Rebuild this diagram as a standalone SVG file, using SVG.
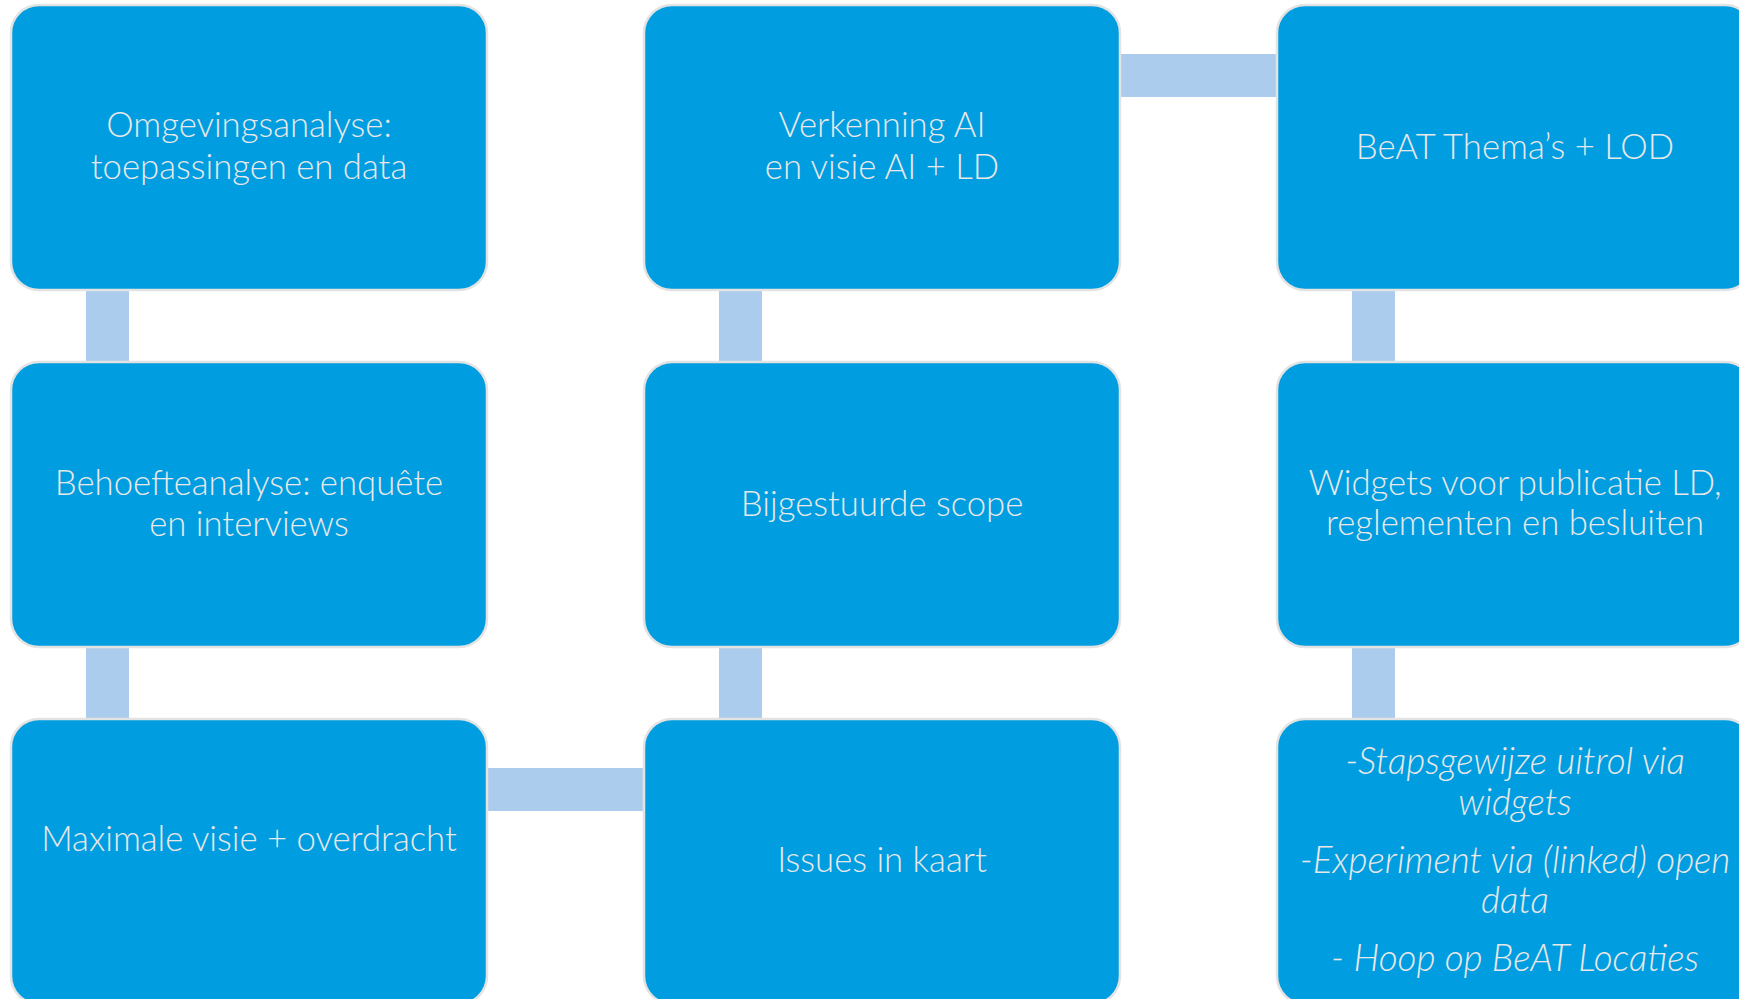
<svg xmlns="http://www.w3.org/2000/svg" width="1739" height="999" viewBox="0 0 1739 999">
<style>
.box{fill:#009EE0;stroke:#E3E3E3;stroke-width:2.5}
.con{fill:#ABCCED}
.t{font-family:Lato,"Liberation Sans",sans-serif;font-weight:300;font-size:34.7px;fill:#E9E8E8;text-anchor:middle}
.i{font-style:italic;font-size:36.8px}
</style>
<rect width="1739" height="999" fill="#FFFFFF"/>
<g id="connectors">
<rect class="con" x="86" y="289" width="43" height="74"/>
<rect class="con" x="86" y="646" width="43" height="74"/>
<rect class="con" x="719" y="289" width="43" height="74"/>
<rect class="con" x="719" y="646" width="43" height="74"/>
<rect class="con" x="1352" y="289" width="43" height="74"/>
<rect class="con" x="1352" y="646" width="43" height="74"/>
<rect class="con" x="1119" y="54" width="159" height="43"/>
<rect class="con" x="486" y="768" width="159" height="43"/>
</g>
<g id="n1"><rect class="box" x="11" y="5" width="476" height="285" rx="28"/>
<text class="t" x="249" y="137">Omgevingsanalyse:</text><text class="t" x="249" y="179">toepassingen en data</text></g>
<g id="n2"><rect class="box" x="11" y="362" width="476" height="285" rx="28"/>
<text class="t" x="249" y="495">Behoefteanalyse: enquête</text><text class="t" x="249" y="536">en interviews</text></g>
<g id="n3"><rect class="box" x="11" y="719" width="476" height="285" rx="28"/>
<text class="t" x="249" y="851">Maximale visie + overdracht</text></g>
<g id="n4"><rect class="box" x="644" y="5" width="476" height="285" rx="28"/>
<text class="t" x="882" y="137">Verkenning AI</text><text class="t" x="882" y="179">en visie AI + LD</text></g>
<g id="n5"><rect class="box" x="644" y="362" width="476" height="285" rx="28"/>
<text class="t" x="882" y="516">Bijgestuurde scope</text></g>
<g id="n6"><rect class="box" x="644" y="719" width="476" height="285" rx="28"/>
<text class="t" x="882" y="872">Issues in kaart</text></g>
<g id="n7"><rect class="box" x="1277" y="5" width="476" height="285" rx="28"/>
<text class="t" x="1515" y="159">BeAT Thema’s + LOD</text></g>
<g id="n8"><rect class="box" x="1277" y="362" width="476" height="285" rx="28"/>
<text class="t" x="1515" y="495">Widgets voor publicatie LD,</text><text class="t" x="1515" y="535">reglementen en besluiten</text></g>
<g id="n9"><rect class="box" x="1277" y="719" width="476" height="285" rx="28"/>
<text class="t i" x="1515" y="774">-Stapsgewijze uitrol via</text>
<text class="t i" x="1515" y="815">widgets</text>
<text class="t i" x="1515" y="873">-Experiment via (linked) open</text>
<text class="t i" x="1515" y="913">data</text>
<text class="t i" x="1515" y="971">- Hoop op BeAT Locaties</text></g>
</svg>
